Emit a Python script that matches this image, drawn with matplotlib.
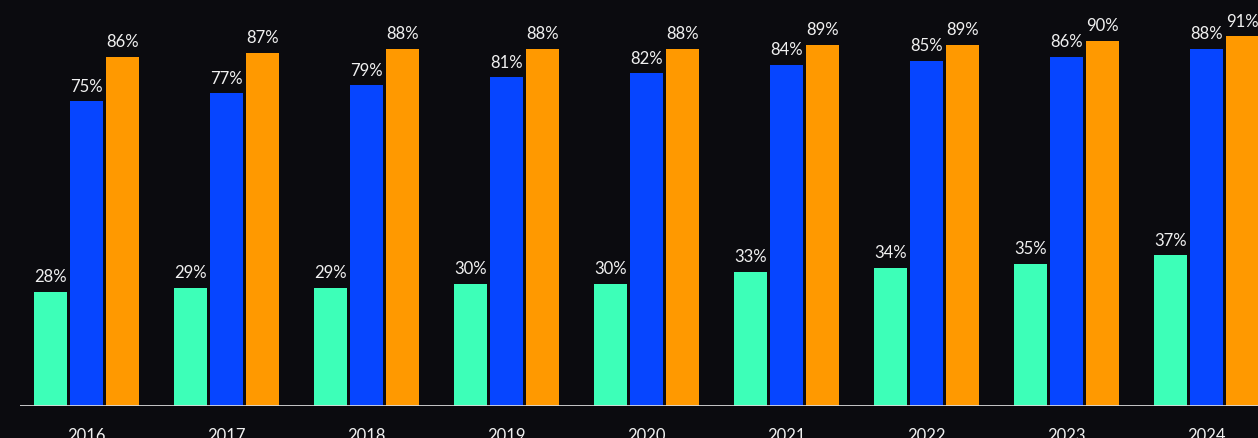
import numpy as np
import matplotlib.pyplot as plt

plt.rcParams['font.family'] = ['Lato', 'DejaVu Sans']

years = ['2016', '2017', '2018', '2019', '2020', '2021', '2022', '2023', '2024']
green_vals = [28, 29, 29, 30, 30, 33, 34, 35, 37]
blue_vals = [75, 77, 79, 81, 82, 84, 85, 86, 88]
orange_vals = [86, 87, 88, 88, 88, 89, 89, 90, 91]

colors = ['#3dffb8', '#0645ff', '#ff9900']
bg = '#0b0b0f'
width = 0.236
step = 0.257

fig = plt.figure(figsize=(12.58, 4.38), dpi=100, facecolor=bg)
ax = fig.add_axes([20 / 1258, 32.5 / 438, 1238 / 1258, 405.5 / 438])
ax.set_facecolor(bg)

x = np.arange(len(years))
for i, vals in enumerate((green_vals, blue_vals, orange_vals)):
  xs = x + (i - 1) * step
  ax.bar(xs, vals, width=width, color=colors[i], zorder=2)
  for _x, _y in zip(xs, vals):
    ax.text(_x, _y + 1.6, '%d%%' % _y, ha='center', va='bottom',
            color='#f0f0f0', fontsize=12)

ax.set_xlim(-0.475, 8.368)
ax.set_ylim(0, 100)
ax.axhline(0, color='#d8d8d8', lw=2, zorder=3)
for s in ax.spines.values():
  s.set_visible(False)
ax.set_yticks([])
ax.set_xticks(x)
ax.set_xticklabels(years, color='#f0f0f0', fontsize=12)
ax.tick_params(axis='x', length=0, pad=16)

fig.savefig('out.png', dpi=100, facecolor=bg)
